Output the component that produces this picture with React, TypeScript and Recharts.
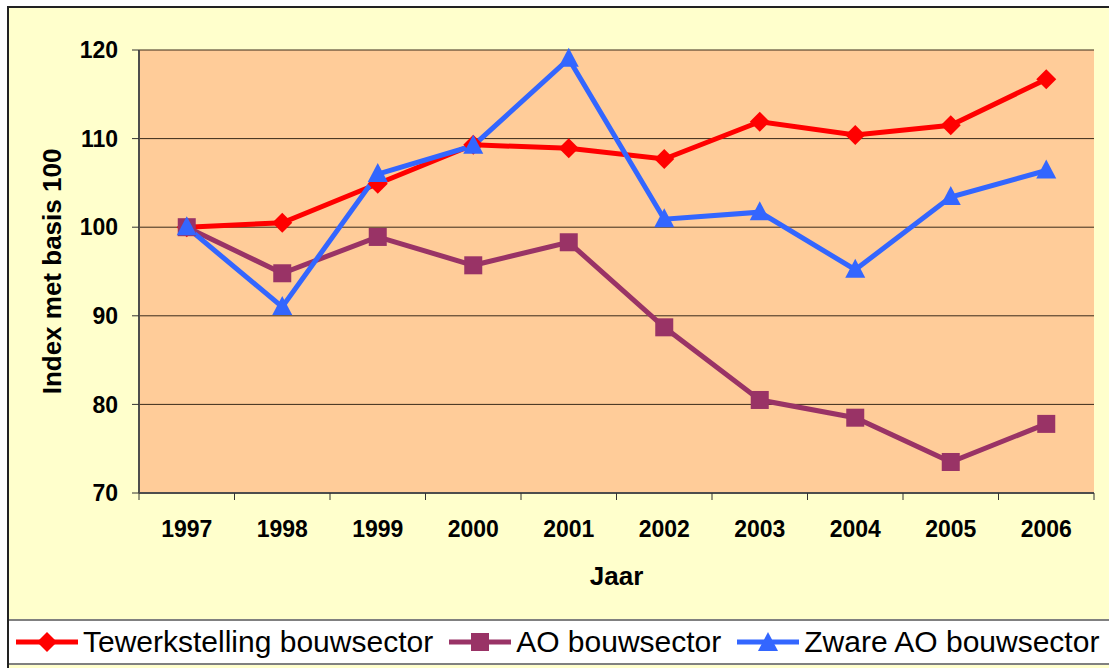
import { LineChart, Line, XAxis, YAxis, CartesianGrid } from "recharts";

const years = ["1997", "1998", "1999", "2000", "2001", "2002", "2003", "2004", "2005", "2006"];
const tewerkstelling = [100, 100.5, 104.9, 109.3, 108.9, 107.7, 111.9, 110.4, 111.5, 116.7];
const aoBouw = [100, 94.8, 98.9, 95.7, 98.3, 88.7, 80.5, 78.5, 73.5, 77.8];
const zwareAo = [100, 91.0, 106.0, 109.2, 119.0, 100.9, 101.7, 95.2, 103.4, 106.4];
const yTicks = [70, 80, 90, 100, 110, 120];

const RED = "#FF0000";
const PURPLE = "#993366";
const BLUE = "#3366FF";
const FONT = "'Liberation Sans', Arial, Helvetica, sans-serif";

const CHART_W = 1101;
const CHART_H = 610;
const MARGIN = { top: 42, right: 16, bottom: 0, left: 0 };
const Y_AXIS_W = 130;
const BAND = (CHART_W - Y_AXIS_W - MARGIN.right) / years.length;

const data = years.map((year, i) => ({
  year,
  tewerkstelling: tewerkstelling[i],
  ao: aoBouw[i],
  zware: zwareAo[i],
}));

function Diamond({ cx, cy, color }: { cx: number; cy: number; color: string }) {
  const r = 10;
  return <polygon points={`${cx},${cy - r} ${cx + r},${cy} ${cx},${cy + r} ${cx - r},${cy}`} fill={color} />;
}

function Square({ cx, cy, color }: { cx: number; cy: number; color: string }) {
  return <rect x={cx - 9} y={cy - 9} width={18} height={18} fill={color} />;
}

function Triangle({ cx, cy, color }: { cx: number; cy: number; color: string }) {
  return <polygon points={`${cx},${cy - 11} ${cx + 10},${cy + 8} ${cx - 10},${cy + 8}`} fill={color} />;
}

function YearTick(props: any) {
  const { x, y, payload, index } = props;
  const half = BAND / 2;
  return (
    <g>
      <line x1={x - half} y1={y} x2={x - half} y2={y + 7} stroke="#333" strokeWidth={1} />
      {index === years.length - 1 && (
        <line x1={x + half} y1={y} x2={x + half} y2={y + 7} stroke="#333" strokeWidth={1} />
      )}
      <text x={x} y={y + 44} textAnchor="middle" fontSize={23} fontWeight="bold" fontFamily={FONT} fill="#000">
        {payload.value}
      </text>
    </g>
  );
}

function LegendItem({ color, label, marker }: { color: string; label: string; marker: "d" | "s" | "t" }) {
  return (
    <div style={{ display: "flex", alignItems: "center", marginRight: 16 }}>
      <svg width={62} height={24} style={{ marginRight: 5 }}>
        <line x1={0} y1={12} x2={62} y2={12} stroke={color} strokeWidth={5} />
        {marker === "d" && <Diamond cx={31} cy={12} color={color} />}
        {marker === "s" && <Square cx={31} cy={12} color={color} />}
        {marker === "t" && <Triangle cx={31} cy={13} color={color} />}
      </svg>
      <span style={{ fontSize: 30, lineHeight: "30px", whiteSpace: "nowrap" }}>{label}</span>
    </div>
  );
}

export default function App() {
  const pad = { left: BAND / 2, right: BAND / 2 };
  return (
    <div
      style={{
        position: "absolute",
        left: 7,
        top: 6,
        width: 1110,
        height: 670,
        border: "2px solid #222",
        background: "#FFFFCC",
        fontFamily: FONT,
        overflow: "hidden",
      }}
    >
      <LineChart width={CHART_W} height={CHART_H} data={data} margin={MARGIN}>
        <CartesianGrid vertical={false} stroke="#3a2a1a" strokeWidth={1} fill="#FFCC99" fillOpacity={1} />
        <XAxis
          dataKey="year"
          height={125}
          padding={pad}
          tickSize={0}
          tickMargin={0}
          interval={0}
          tick={YearTick}
          axisLine={{ stroke: "#4d4d4d", strokeWidth: 2 }}
          label={{
            value: "Jaar",
            position: "insideBottom",
            offset: 33,
            style: { fontSize: 26, fontWeight: "bold", fill: "#000", fontFamily: FONT },
          }}
        />
        <XAxis
          xAxisId="top"
          dataKey="year"
          orientation="top"
          height={0}
          padding={pad}
          tick={false}
          tickLine={false}
          axisLine={{ stroke: "#808080", strokeWidth: 2 }}
        />
        <YAxis
          width={Y_AXIS_W}
          domain={[70, 120]}
          ticks={yTicks}
          interval={0}
          tickSize={7}
          tickMargin={14}
          tickLine={{ stroke: "#333" }}
          axisLine={{ stroke: "#4d4d4d", strokeWidth: 2 }}
          tick={{ fontSize: 23, fontWeight: "bold", fill: "#000", fontFamily: FONT }}
          label={{
            value: "Index met basis 100",
            angle: -90,
            position: "insideLeft",
            offset: 43,
            style: { fontSize: 26, fontWeight: "bold", fill: "#000", fontFamily: FONT, textAnchor: "middle" },
          }}
        />
        <YAxis
          yAxisId="right"
          orientation="right"
          width={0}
          domain={[70, 120]}
          tick={false}
          tickLine={false}
          axisLine={{ stroke: "#808080", strokeWidth: 2 }}
        />
        <Line
          dataKey="tewerkstelling"
          stroke={RED}
          strokeWidth={5}
          isAnimationActive={false}
          dot={(p: any) => <Diamond key={`d${p.index}`} cx={p.cx} cy={p.cy} color={RED} />}
          activeDot={false}
        />
        <Line
          dataKey="ao"
          stroke={PURPLE}
          strokeWidth={5}
          isAnimationActive={false}
          dot={(p: any) => <Square key={`s${p.index}`} cx={p.cx} cy={p.cy} color={PURPLE} />}
          activeDot={false}
        />
        <Line
          dataKey="zware"
          stroke={BLUE}
          strokeWidth={5}
          isAnimationActive={false}
          dot={(p: any) => <Triangle key={`t${p.index}`} cx={p.cx} cy={p.cy} color={BLUE} />}
          activeDot={false}
        />
      </LineChart>
      <div
        style={{
          position: "absolute",
          left: 0,
          top: 611,
          width: CHART_W,
          height: 42,
          background: "#fff",
          borderTop: "2px solid #808080",
          borderBottom: "2px solid #808080",
          display: "flex",
          alignItems: "center",
          paddingLeft: 7,
          boxSizing: "content-box",
        }}
      >
        <LegendItem color={RED} label="Tewerkstelling bouwsector" marker="d" />
        <LegendItem color={PURPLE} label="AO bouwsector" marker="s" />
        <LegendItem color={BLUE} label="Zware AO bouwsector" marker="t" />
      </div>
    </div>
  );
}
